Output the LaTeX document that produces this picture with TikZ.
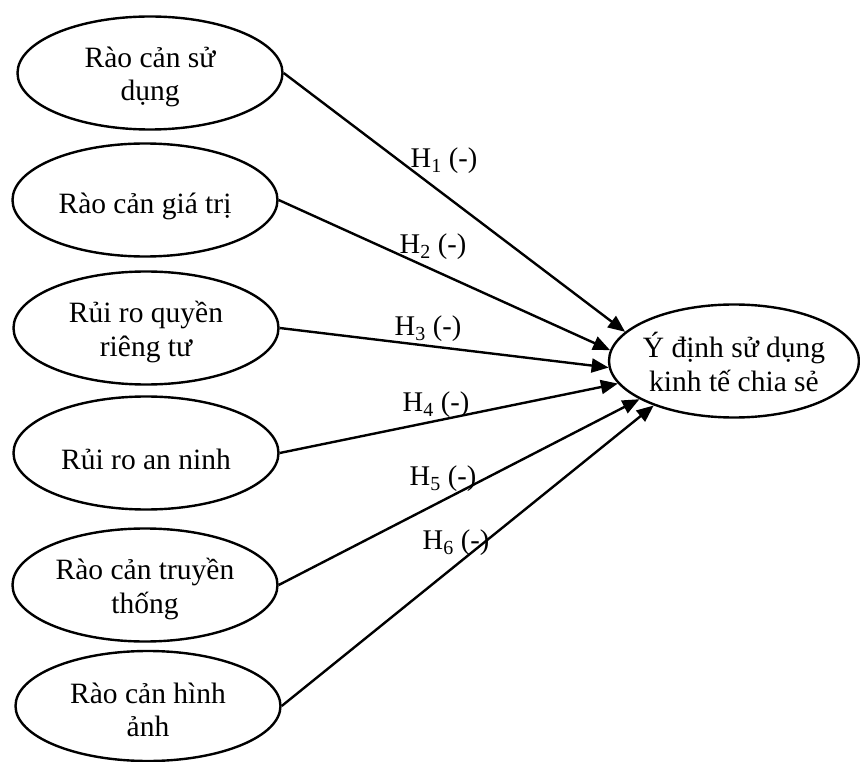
\documentclass[tikz,border=0pt]{standalone}
\usepackage{fontspec}
\setmainfont{Liberation Serif}
\usetikzlibrary{shapes.geometric,arrows.meta}
\begin{document}
\begin{tikzpicture}[x=1pt,y=-1pt,
  ell/.style={draw,ellipse,line width=2.4pt,inner sep=0pt,minimum width=265pt,minimum height=113pt},
  txt/.style={align=center,inner sep=0pt,font=\fontsize{29.5}{33.5}\selectfont},
  lbl/.style={inner sep=0pt,font=\fontsize{28.5}{32}\selectfont},
  arr/.style={line width=2.4pt,-{Triangle[length=17pt,width=14pt]}}]
\useasboundingbox (0,0) rectangle (860,762);
\node[ell] (e1) at (150,73) {};
\node[ell] (e2) at (145,200) {};
\node[ell] (e3) at (146,328) {};
\node[ell] (e4) at (146,453) {};
\node[ell] (e5) at (145,585) {};
\node[ell,minimum height=110pt] (e6) at (148,706) {};
\node[ell,minimum width=250pt] (t) at (734,361) {};
\node[txt] (l1) at ([yshift=-4pt]e1.center) {Rào cản sử\\dụng};
\node[txt] (l2) at ([yshift=-6pt]e2.center) {Rào cản giá trị};
\node[txt] (l3) at ([yshift=-4pt]e3.center) {Rủi ro quyền\\riêng tư};
\node[txt] (l4) at ([yshift=-6pt]e4.center) {Rủi ro an ninh};
\node[txt] (l5) at ([yshift=-4pt]e5.center) {Rào cản truyền\\thống};
\node[txt] (l6) at ([yshift=-4pt]e6.center) {Rào cản hình\\ảnh};
\node[txt] (lt) at ([yshift=-1pt]t.center) {Ý định sử dụng\\kinh tế chia sẻ};
\draw[arr] (e1.east) -- (t.165);
\draw[arr] (e2.east) -- (t.175);
\draw[arr] (e3.east) -- (t.183);
\draw[arr] (e4.east) -- (t.191);
\draw[arr] (e5.east) -- (t.202);
\draw[arr] (e6.east) -- (t.209);
\node[lbl] (h1) at (444,161) {H\textsubscript{1} (-)};
\node[lbl] (h2) at (433,247) {H\textsubscript{2} (-)};
\node[lbl] (h3) at (428,329) {H\textsubscript{3} (-)};
\node[lbl] (h4) at (436,405) {H\textsubscript{4} (-)};
\node[lbl] (h5) at (443,479) {H\textsubscript{5} (-)};
\node[lbl] (h6) at (456,543) {H\textsubscript{6} (-)};
\end{tikzpicture}
\end{document}
